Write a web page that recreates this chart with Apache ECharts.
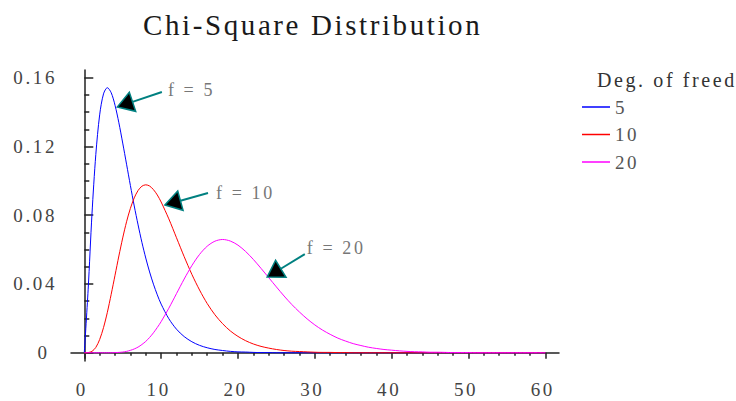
<!DOCTYPE html>
<html>
<head>
<meta charset="utf-8">
<script src="https://cdn.jsdelivr.net/npm/echarts@6/dist/echarts.min.js"></script>
<style>
  html, body { margin: 0; padding: 0; background: #ffffff; }
  #chart { width: 736px; height: 401px; }
  #chart text { letter-spacing: 2.6px; }
</style>
</head>
<body>
<div id="chart"></div>
<script>
// Sample points along the horizontal axis (finer near the origin where the curves rise steeply)
const xs = [0, 0.5, 1, 1.5, 2, 2.5, 3, 3.5, 4, 4.5, 5, 5.5, 6, 6.5, 7, 7.5, 8, 8.5, 9, 9.5, 10,
  11, 12, 13, 14, 15, 16, 17, 18, 19, 20, 21, 22, 23, 24, 25, 26, 27, 28, 29, 30,
  31, 32, 33, 34, 35, 36, 37, 38, 39, 40, 41, 42, 43, 44, 45, 46, 47, 48, 49, 50,
  51, 52, 53, 54, 55, 56, 57, 58, 59, 60];

// Density values, 5 degrees of freedom
const df5 = [0, 0.0366, 0.0807, 0.1154, 0.1384, 0.1506, 0.1542, 0.1513, 0.1440, 0.1338, 0.1220,
  0.1097, 0.0973, 0.0854, 0.0744, 0.0642, 0.0551, 0.0470, 0.0399, 0.0337, 0.0283,
  0.0198, 0.0137, 0.0094, 0.0064, 0.0043, 0.0029, 0.0019, 0.0013, 0.0008, 0.0005,
  0.0004, 0.0002, 0.0001, 0.0001, 0, 0, 0, 0, 0, 0,
  0, 0, 0, 0, 0, 0, 0, 0, 0, 0,
  0, 0, 0, 0, 0, 0, 0, 0, 0, 0,
  0, 0, 0, 0, 0, 0, 0, 0, 0, 0];

// Density values, 10 degrees of freedom
const df10 = [0, 0.0001, 0.0008, 0.0031, 0.0077, 0.0146, 0.0235, 0.0340, 0.0451, 0.0563, 0.0668,
  0.0762, 0.0840, 0.0901, 0.0944, 0.0969, 0.0977, 0.0970, 0.0949, 0.0918, 0.0877,
  0.0779, 0.0669, 0.0559, 0.0456, 0.0365, 0.0286, 0.0221, 0.0169, 0.0127, 0.0095,
  0.0070, 0.0051, 0.0037, 0.0027, 0.0019, 0.0013, 0.0009, 0.0007, 0.0005, 0.0003,
  0.0002, 0.0002, 0.0001, 0.0001, 0, 0, 0, 0, 0, 0,
  0, 0, 0, 0, 0, 0, 0, 0, 0, 0,
  0, 0, 0, 0, 0, 0, 0, 0, 0, 0];

// Density values, 20 degrees of freedom
const df20 = [0, 0, 0, 0, 0, 0, 0, 0, 0.0001, 0.0002, 0.0004,
  0.0008, 0.0014, 0.0022, 0.0033, 0.0048, 0.0066, 0.0089, 0.0116, 0.0147, 0.0181,
  0.0259, 0.0344, 0.0429, 0.0507, 0.0572, 0.0620, 0.0649, 0.0659, 0.0650, 0.0626,
  0.0589, 0.0543, 0.0491, 0.0437, 0.0383, 0.0330, 0.0281, 0.0237, 0.0197, 0.0162,
  0.0132, 0.0107, 0.0085, 0.0068, 0.0053, 0.0042, 0.0032, 0.0025, 0.0019, 0.0015,
  0.0011, 0.0008, 0.0006, 0.0005, 0.0003, 0.0003, 0.0002, 0.0001, 0.0001, 0.0001,
  0, 0, 0, 0, 0, 0, 0, 0, 0, 0];

const seriesNames = ['5', '10', '20'];

// Axis ticks
const xMajorTicks = [0, 10, 20, 30, 40, 50, 60];
const xMinorTicks = [2, 4, 6, 8, 12, 14, 16, 18, 22, 24, 26, 28, 32, 34, 36, 38,
  42, 44, 46, 48, 52, 54, 56, 58];
const yMajorTicks = [0, 0.04, 0.08, 0.12, 0.16];
const yMinorTicks = [0.01, 0.02, 0.03, 0.05, 0.06, 0.07, 0.09, 0.1, 0.11, 0.13, 0.14, 0.15];

// Callouts: arrow tip and tail in data units
const notes = [
  { text: 'f = 5',  tip: [4.3, 0.143],  tail: [10.1, 0.1517] },
  { text: 'f = 10', tip: [10.5, 0.086], tail: [16.1, 0.0929] },
  { text: 'f = 20', tip: [23.8, 0.044], tail: [28.7, 0.0574] }
];

// ---- styling / layout ----
const FONT = 'Liberation Serif';
const COLORS = ['#0000ff', '#ff0000', '#ff00ff'];
const AXIS_COLOR = '#222222';
const TEAL = '#008080';
const noteLabelOffsets = [[6, -2], [8, 0], [2, -6]];
const X_MIN = -1.73, X_MAX = 61.78;
const Y_MIN = -0.0048, Y_MAX = 0.1645;

const pairs = ys => xs.map((x, i) => [x, ys[i]]);

const chart = echarts.init(document.getElementById('chart'), null, { renderer: 'svg' });

const baseX = { type: 'value', min: X_MIN, max: X_MAX, position: 'bottom', splitLine: { show: false } };
const baseY = { type: 'value', min: Y_MIN, max: Y_MAX, position: 'left', splitLine: { show: false } };

chart.setOption({
  animation: false,
  backgroundColor: '#ffffff',
  title: [
    {
      text: 'Chi-Square Distribution', left: 138, top: 5,
      textStyle: { fontFamily: FONT, fontSize: 29, fontWeight: 'normal', color: '#1a1a1a' }
    },
    {
      text: 'Deg. of freedom', left: 592, top: 65,
      textStyle: { fontFamily: FONT, fontSize: 20, fontWeight: 'normal', color: '#333333' }
    }
  ],
  legend: {
    orient: 'vertical', left: 577, top: 92,
    icon: 'rect', itemWidth: 28, itemHeight: 1.5, itemGap: 7.5,
    textStyle: { fontFamily: FONT, fontSize: 19, color: '#555555', lineHeight: 20 },
    data: seriesNames
  },
  grid: { left: 71, right: 177, top: 70, bottom: 40, containLabel: false },
  xAxis: [
    Object.assign({}, baseX, {
      axisLine: { show: true, lineStyle: { color: AXIS_COLOR, width: 1.5 } },
      axisTick: { show: true, customValues: xMajorTicks, length: 6, lineStyle: { color: AXIS_COLOR, width: 1.5 } },
      axisLabel: {
        show: true, customValues: xMajorTicks, margin: 19, fontFamily: FONT, fontSize: 19, color: '#444444',
        padding: [0, 5, 0, 0]
      }
    }),
    Object.assign({}, baseX, {
      axisLine: { show: false },
      axisTick: { show: true, customValues: xMinorTicks, length: 3, lineStyle: { color: AXIS_COLOR, width: 1.5 } },
      axisLabel: { show: false }
    })
  ],
  yAxis: [
    Object.assign({}, baseY, {
      axisLine: { show: true, lineStyle: { color: AXIS_COLOR, width: 1.5 } },
      axisTick: { show: true, inside: true, customValues: yMajorTicks, length: 9, lineStyle: { color: AXIS_COLOR, width: 1.5 } },
      axisLabel: {
        show: true, customValues: yMajorTicks, margin: 14, fontFamily: FONT, fontSize: 19, color: '#444444',
        formatter: v => (v === 0 ? '0\u00a0' : v.toFixed(2))
      }
    }),
    Object.assign({}, baseY, {
      axisLine: { show: false },
      axisTick: { show: true, inside: true, customValues: yMinorTicks, length: 5, lineStyle: { color: AXIS_COLOR, width: 1.5 } },
      axisLabel: { show: false }
    })
  ],
  series: [df5, df10, df20].map((ys, i) => ({
    name: seriesNames[i],
    type: 'line',
    xAxisIndex: 0,
    yAxisIndex: 0,
    data: pairs(ys),
    symbol: 'none',
    smooth: 0.3,
    color: COLORS[i],
    lineStyle: { width: 1, color: COLORS[i] }
  }))
});

// Callout arrows, placed through the chart's own coordinate conversion
function buildCallouts() {
  const elements = [];
  notes.forEach((n, i) => {
    const p = chart.convertToPixel({ xAxisIndex: 0, yAxisIndex: 0 }, n.tip);
    const t = chart.convertToPixel({ xAxisIndex: 0, yAxisIndex: 0 }, n.tail);
    const dx = t[0] - p[0], dy = t[1] - p[1];
    const len = Math.sqrt(dx * dx + dy * dy);
    const ux = dx / len, uy = dy / len;
    const nx = -uy, ny = ux;
    const headLen = 16, headHalf = 10;
    const bx = p[0] + ux * headLen, by = p[1] + uy * headLen;
    elements.push({
      type: 'line', z: 10,
      shape: { x1: bx, y1: by, x2: t[0], y2: t[1] },
      style: { stroke: TEAL, lineWidth: 2 }
    });
    elements.push({
      type: 'polygon', z: 11,
      shape: { points: [[p[0], p[1]], [bx + nx * headHalf, by + ny * headHalf], [bx - nx * headHalf, by - ny * headHalf]] },
      style: { fill: '#000000', stroke: TEAL, lineWidth: 1.5 }
    });
    const off = noteLabelOffsets[i];
    elements.push({
      type: 'text', z: 12,
      x: t[0] + off[0], y: t[1] + off[1],
      style: { text: n.text, fill: '#777777', fontFamily: FONT, fontSize: 18, align: 'left', verticalAlign: 'middle' }
    });
  });
  chart.setOption({ graphic: elements });
}
buildCallouts();
</script>
</body>
</html>
